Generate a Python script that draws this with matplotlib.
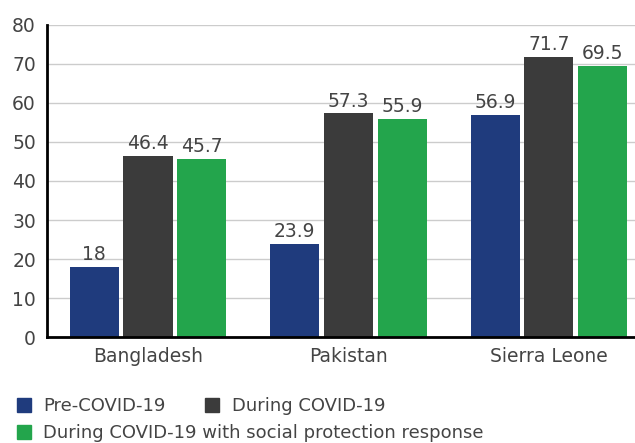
import numpy as np
import matplotlib.pyplot as plt
from matplotlib.patches import Patch

countries = ["Bangladesh", "Pakistan", "Sierra Leone"]
pre_covid = [18, 23.9, 56.9]
during_covid = [46.4, 57.3, 71.7]
with_protection = [45.7, 55.9, 69.5]
series_names = ["Pre-COVID-19", "During COVID-19",
                "During COVID-19 with social protection response"]
colors = ["#1f3b7d", "#3b3b3b", "#23a54c"]

plt.rcParams["font.family"] = ["DejaVu Sans"]
text_color = "#444444"

fig = plt.figure(figsize=(6.35, 4.43), dpi=100)
ax = fig.add_axes([0.074, 0.239, 0.926, 0.705])

x = np.arange(len(countries))
width = 0.245
step = 0.268
for i, (vals, c) in enumerate(zip([pre_covid, during_covid, with_protection], colors)):
    bars = ax.bar(x + (i - 1) * step, vals, width, color=c, zorder=3)
    ax.bar_label(bars, labels=[f"{v:g}" for v in vals], padding=2,
                 fontsize=13.5, color=text_color)

ax.set_xlim(-0.504, 2.43)
ax.set_ylim(0, 80)
ax.set_yticks(range(0, 81, 10))
ax.set_xticks(x)
ax.set_xticklabels(countries)
ax.tick_params(length=0, labelsize=13.5, colors=text_color)
ax.tick_params(axis="y", pad=8)
ax.tick_params(axis="x", pad=7)
ax.yaxis.grid(True, color="#cccccc", linewidth=1, zorder=0)
for s in ["top", "right"]:
    ax.spines[s].set_visible(False)
ax.spines["left"].set_linewidth(2)
ax.spines["bottom"].set_linewidth(2)
ax.spines["left"].set_zorder(4)
ax.spines["bottom"].set_zorder(4)

handles = [Patch(color=c) for c in colors]
common = dict(loc="upper left", frameon=False, fontsize=13,
              handlelength=0.75, handleheight=0.75, handletextpad=0.7,
              borderaxespad=0, borderpad=0, labelcolor=text_color)
leg1 = fig.legend(handles[:2], series_names[:2], ncol=2,
                  bbox_to_anchor=(0.027, 0.103), columnspacing=2.2, **common)
leg2 = fig.legend(handles[2:], series_names[2:],
                  bbox_to_anchor=(0.027, 0.042), **common)

fig.savefig("out.png", dpi=100)
